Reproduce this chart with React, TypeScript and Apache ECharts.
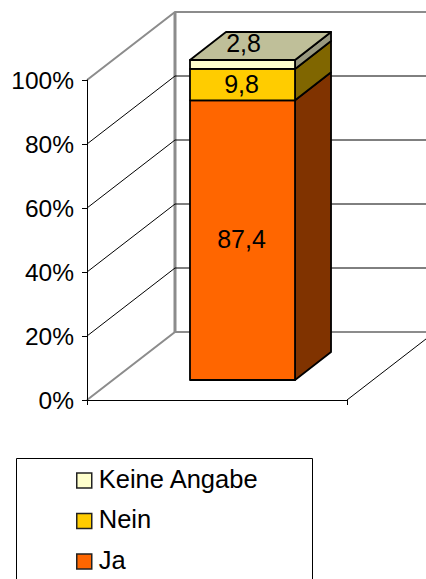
import React, { useEffect, useRef } from "react";
import * as echarts from "echarts";

const categories = [""];
const yTicks = [0, 20, 40, 60, 80, 100];
const seriesNames = ["Ja", "Nein", "Keine Angabe"];
const ja = [87.4];
const nein = [9.8];
const keineAngabe = [2.8];
const seriesValues = [ja, nein, keineAngabe];
const legendOrder = ["Keine Angabe", "Nein", "Ja"];
const labels = ["87,4", "9,8", "2,8"];
const frontColors = ["#ff6600", "#ffcc00", "#ffffcc"];
const sideColors = ["#803300", "#806600", "#999980"];
const topColor = "#bfbf99";

const FONT = "'Liberation Sans', Arial, sans-serif";
const WALL_DX = 88, WALL_DY = -68;
const BAR_DX = 36, BAR_DY = -28;
const FRONT_DX = 25.5, FRONT_DY = -20;
const GREY = "#8c8c8c";

function wallItem(params: any, api: any) {
  const cs = params.coordSys;
  const v = api.value(0);
  const [, y] = api.coord([0, v]);
  const x0 = cs.x, x1 = cs.x + cs.width;
  const edge = v === 0 || v === 100;
  const style = edge
    ? { stroke: GREY, lineWidth: 2, fill: "none" }
    : { stroke: "#000", lineWidth: 1, fill: "none" };
  const children: any[] = [
    { type: "polyline", shape: { points: [[x0, y], [x0 + WALL_DX, y + WALL_DY], [x1 + WALL_DX, y + WALL_DY]] }, style },
  ];
  if (v === 0) {
    children.push({
      type: "line",
      shape: { x1: x0 + WALL_DX, y1: y + WALL_DY, x2: x0 + WALL_DX, y2: cs.y + WALL_DY },
      style: { stroke: GREY, lineWidth: 3 },
    });
    children.push({
      type: "line",
      shape: { x1, y1: y, x2: x1 + WALL_DX, y2: y + WALL_DY },
      style: { stroke: "#000", lineWidth: 1 },
    });
  }
  return { type: "group", children };
}

function barItem(index: number) {
  return (params: any, api: any) => {
    const center = api.coord([api.value(0), 0])[0];
    const width = api.size([1, 0])[0] * 0.404;
    const yStart = api.coord([0, api.value(1)])[1] + FRONT_DY;
    const yEnd = api.coord([0, api.value(2)])[1] + FRONT_DY;
    const xl = center - width / 2 + FRONT_DX;
    const xr = xl + width;
    const line = { stroke: "#000", lineWidth: 1.8, lineJoin: "round" };
    const children: any[] = [
      {
        type: "polygon",
        shape: { points: [[xr, yStart], [xr + BAR_DX, yStart + BAR_DY], [xr + BAR_DX, yEnd + BAR_DY], [xr, yEnd]] },
        style: { fill: sideColors[index], ...line },
      },
      {
        type: "rect",
        shape: { x: xl, y: yEnd, width, height: yStart - yEnd },
        style: { fill: frontColors[index], ...line },
      },
    ];
    if (index === seriesValues.length - 1) {
      children.push({
        type: "polygon",
        shape: { points: [[xl, yEnd], [xl + BAR_DX, yEnd + BAR_DY], [xr + BAR_DX, yEnd + BAR_DY], [xr, yEnd]] },
        style: { fill: topColor, ...line },
      });
    }
    const small = yStart - yEnd < 12;
    children.push({
      type: "text",
      x: xl + width / 2 + (small ? 1 : -1),
      y: small ? yEnd - 17 : (yStart + yEnd) / 2 - 1,
      style: {
        text: labels[index],
        font: `25px ${FONT}`,
        fill: "#000",
        align: "center",
        verticalAlign: "middle",
      },
    });
    return { type: "group", children };
  };
}

export default function App() {
  const ref = useRef<HTMLDivElement>(null);
  useEffect(() => {
    const chart = echarts.init(ref.current!, undefined, { renderer: "svg" });
    let acc = 0;
    const barSeries = seriesNames.map((name, i) => {
      const start = acc;
      acc += seriesValues[i][0];
      return {
        type: "custom",
        name,
        coordinateSystem: "cartesian2d",
        renderItem: barItem(i),
        itemStyle: { color: frontColors[i] },
        encode: { x: 0, y: [1, 2] },
        data: [[0, start, acc]],
        clip: false,
        silent: true,
        z: 5 + i,
      };
    });
    chart.setOption({
      animation: false,
      backgroundColor: "#fff",
      textStyle: { fontFamily: FONT },
      grid: { left: 87, top: 80, width: 260, height: 320, containLabel: false },
      xAxis: {
        type: "category",
        data: categories,
        boundaryGap: true,
        axisLine: { show: true, lineStyle: { color: "#000", width: 1 } },
        axisTick: { show: true, length: 5, lineStyle: { color: "#000", width: 1 } },
        axisLabel: { show: false },
        splitLine: { show: false },
        z: 10,
      },
      yAxis: {
        type: "value",
        min: 0,
        max: 100,
        interval: 20,
        axisLine: { show: true, lineStyle: { color: "#000", width: 1 } },
        axisTick: { show: true, length: 5, lineStyle: { color: "#000", width: 1 } },
        axisLabel: {
          formatter: "{value}%",
          color: "#000",
          fontSize: 24.5,
          fontFamily: FONT,
          margin: 13,
        },
        splitLine: { show: false },
        z: 10,
      },
      legend: {
        show: true,
        orient: "vertical",
        left: 76,
        top: 465.5,
        padding: 0,
        itemWidth: 15,
        itemHeight: 15,
        itemGap: 14.5,
        icon: "rect",
        align: "left",
        data: legendOrder,
        formatter: "{a|{name}}",
        textStyle: {
          fontSize: 25.5,
          fontFamily: FONT,
          color: "#000",
          rich: {
            a: { fontSize: 25.5, fontFamily: FONT, color: "#000", padding: [0, 0, 4, 2] },
          },
        },
        itemStyle: { borderColor: "#222", borderWidth: 1.5 },
        selectedMode: false,
      },
      graphic: [
        {
          type: "rect",
          z: -1,
          shape: { x: 16.5, y: 458.5, width: 296, height: 140 },
          style: { fill: "#fff", stroke: "#000", lineWidth: 1 },
        },
      ],
      series: [
        {
          type: "custom",
          name: "walls",
          coordinateSystem: "cartesian2d",
          renderItem: wallItem,
          encode: { y: 0 },
          data: yTicks.map((t) => [t]),
          clip: false,
          silent: true,
          z: 1,
        },
        ...barSeries,
      ],
    });
    return () => chart.dispose();
  }, []);
  return <div ref={ref} style={{ position: "absolute", left: 0, top: 0, width: 426, height: 579 }} />;
}
